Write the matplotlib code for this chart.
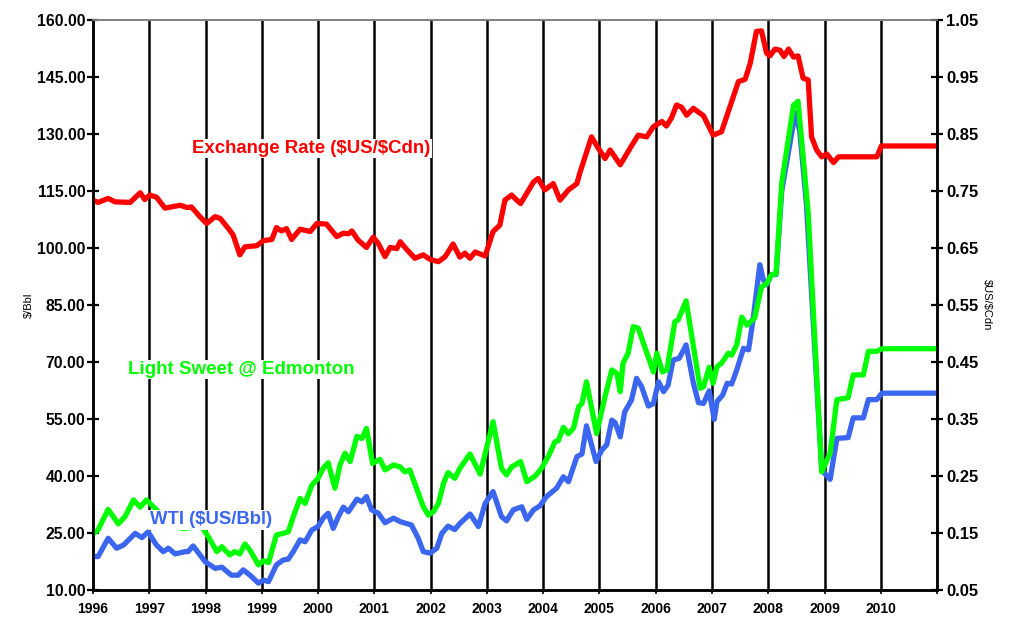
import numpy as np
import matplotlib
matplotlib.use('Agg')
from matplotlib import pyplot as plt

plt.rcParams['font.family'] = ['Liberation Sans', 'DejaVu Sans']
plt.rcParams['font.weight'] = 'bold'
plt.rcParams['text.parse_math'] = False

# exchange rate ($US/$Cdn), right axis
fxYears = [1996.00, 1996.09, 1996.27, 1996.39, 1996.66, 1996.84, 1996.92, 1997.01, 1997.13, 1997.28,
           1997.55, 1997.67, 1997.75, 1997.90, 1998.02, 1998.17, 1998.26, 1998.40, 1998.49, 1998.61,
           1998.70, 1998.91, 1999.03, 1999.18, 1999.26, 1999.35, 1999.44, 1999.53, 1999.68, 1999.86,
           1999.98, 2000.15, 2000.33, 2000.45, 2000.54, 2000.60, 2000.71, 2000.86, 2000.98, 2001.07,
           2001.19, 2001.28, 2001.40, 2001.46, 2001.57, 2001.72, 2001.87, 2001.99, 2002.14, 2002.26,
           2002.40, 2002.52, 2002.61, 2002.70, 2002.79, 2002.97, 2003.11, 2003.23, 2003.32, 2003.44,
           2003.53, 2003.60, 2003.83, 2003.91, 2004.03, 2004.18, 2004.30, 2004.45, 2004.60, 2004.65,
           2004.86, 2004.98, 2005.10, 2005.19, 2005.37, 2005.60, 2005.69, 2005.84, 2005.96, 2006.11,
           2006.19, 2006.28, 2006.37, 2006.46, 2006.55, 2006.67, 2006.85, 2007.02, 2007.17, 2007.32,
           2007.47, 2007.59, 2007.68, 2007.79, 2007.88, 2007.97, 2008.03, 2008.12, 2008.21, 2008.28,
           2008.36, 2008.45, 2008.53, 2008.62, 2008.71, 2008.77, 2008.86, 2008.95, 2009.04, 2009.16,
           2009.25, 2009.93, 2010.01, 2010.97]
fxRate = [0.734, 0.730, 0.737, 0.731, 0.730, 0.747, 0.735, 0.743, 0.739, 0.720,
          0.725, 0.721, 0.722, 0.705, 0.693, 0.705, 0.702, 0.685, 0.673, 0.638,
          0.652, 0.654, 0.663, 0.665, 0.686, 0.680, 0.684, 0.665, 0.683, 0.679,
          0.693, 0.692, 0.670, 0.676, 0.675, 0.680, 0.664, 0.651, 0.669, 0.658,
          0.635, 0.651, 0.649, 0.661, 0.648, 0.632, 0.638, 0.630, 0.626, 0.635,
          0.657, 0.634, 0.641, 0.632, 0.643, 0.636, 0.679, 0.690, 0.734, 0.743,
          0.734, 0.728, 0.766, 0.772, 0.752, 0.763, 0.734, 0.752, 0.763, 0.781,
          0.845, 0.825, 0.807, 0.822, 0.796, 0.834, 0.848, 0.845, 0.863, 0.872,
          0.864, 0.878, 0.901, 0.897, 0.883, 0.895, 0.882, 0.848, 0.854, 0.898,
          0.942, 0.946, 0.974, 1.030, 1.031, 0.992, 0.987, 0.999, 0.997, 0.986,
          0.999, 0.985, 0.987, 0.948, 0.945, 0.845, 0.822, 0.810, 0.815, 0.800,
          0.810, 0.810, 0.829, 0.829]

# Light Sweet @ Edmonton ($/Bbl), left axis
lsYears = [1996.01, 1996.09, 1996.27, 1996.45, 1996.57, 1996.72, 1996.84, 1996.95, 1997.43, 1997.60,
           1997.93, 1998.05, 1998.20, 1998.29, 1998.43, 1998.52, 1998.61, 1998.70, 1998.79, 1998.94,
           1999.03, 1999.12, 1999.26, 1999.38, 1999.47, 1999.56, 1999.68, 1999.77, 1999.89, 2000.00,
           2000.09, 2000.18, 2000.30, 2000.39, 2000.48, 2000.57, 2000.69, 2000.78, 2000.86, 2000.97,
           2001.10, 2001.19, 2001.34, 2001.46, 2001.54, 2001.63, 2001.75, 2001.87, 2001.96, 2002.05,
           2002.14, 2002.23, 2002.31, 2002.43, 2002.52, 2002.70, 2002.88, 2003.00, 2003.11, 2003.26,
           2003.35, 2003.44, 2003.50, 2003.60, 2003.71, 2003.86, 2003.97, 2004.09, 2004.21, 2004.27,
           2004.36, 2004.45, 2004.54, 2004.63, 2004.69, 2004.77, 2004.95, 2005.10, 2005.22, 2005.31,
           2005.37, 2005.42, 2005.51, 2005.60, 2005.69, 2005.96, 2006.02, 2006.12, 2006.20, 2006.34,
           2006.40, 2006.54, 2006.79, 2006.85, 2006.95, 2007.02, 2007.09, 2007.17, 2007.29, 2007.35,
           2007.44, 2007.53, 2007.62, 2007.76, 2007.88, 2007.97, 2008.06, 2008.14, 2008.24, 2008.45,
           2008.53, 2008.71, 2008.95, 2009.10, 2009.22, 2009.42, 2009.51, 2009.69, 2009.78, 2009.93,
           2010.02, 2010.97]
lsPrice = [24.9, 25.8, 31.2, 27.4, 29.3, 33.7, 31.8, 33.7, 26.7, 26.2,
           26.7, 24.0, 20.1, 21.4, 19.2, 20.1, 19.5, 22.1, 20.5, 16.6,
           17.7, 17.2, 24.5, 24.9, 25.3, 29.3, 34.1, 32.8, 37.6, 39.4,
           42.0, 43.5, 36.8, 42.9, 46.0, 43.8, 50.4, 49.9, 52.5, 43.3,
           44.4, 41.6, 42.9, 42.4, 41.1, 41.6, 36.8, 31.9, 29.7, 30.6,
           32.8, 38.1, 40.9, 39.4, 42.0, 45.8, 40.5, 47.7, 54.3, 42.0,
           40.3, 42.4, 42.9, 43.8, 38.5, 40.0, 42.0, 45.1, 49.0, 49.3,
           52.8, 51.1, 52.6, 58.2, 59.1, 64.8, 51.2, 60.9, 67.9, 67.0,
           62.2, 69.7, 72.3, 79.3, 78.9, 67.4, 72.3, 67.4, 67.9, 80.6,
           81.1, 86.1, 63.1, 63.5, 68.6, 64.4, 68.8, 69.7, 72.3, 71.8,
           74.5, 81.8, 79.7, 81.6, 89.8, 90.6, 93.0, 93.2, 117.1, 137.6,
           138.6, 109.3, 41.1, 46.0, 60.1, 60.6, 66.6, 66.6, 72.8, 72.8,
           73.5, 73.5]

# WTI ($US/Bbl), left axis
wtiYears = [1996.01, 1996.09, 1996.27, 1996.42, 1996.54, 1996.75, 1996.87, 1996.98, 1997.13, 1997.25,
            1997.34, 1997.46, 1997.64, 1997.69, 1997.78, 1997.99, 1998.17, 1998.29, 1998.46, 1998.58,
            1998.67, 1998.79, 1998.94, 1999.03, 1999.12, 1999.26, 1999.38, 1999.47, 1999.56, 1999.68,
            1999.77, 1999.89, 2000.00, 2000.09, 2000.18, 2000.27, 2000.36, 2000.45, 2000.54, 2000.69,
            2000.78, 2000.86, 2000.95, 2001.07, 2001.19, 2001.34, 2001.46, 2001.57, 2001.66, 2001.78,
            2001.87, 2001.99, 2002.11, 2002.20, 2002.31, 2002.43, 2002.52, 2002.70, 2002.85, 2002.97,
            2003.11, 2003.26, 2003.35, 2003.47, 2003.62, 2003.71, 2003.83, 2003.94, 2004.06, 2004.24,
            2004.36, 2004.45, 2004.60, 2004.69, 2004.77, 2004.94, 2005.04, 2005.13, 2005.22, 2005.28,
            2005.37, 2005.45, 2005.57, 2005.66, 2005.75, 2005.87, 2005.96, 2006.05, 2006.14, 2006.22,
            2006.31, 2006.42, 2006.54, 2006.67, 2006.76, 2006.85, 2006.95, 2007.04, 2007.09, 2007.19,
            2007.27, 2007.35, 2007.44, 2007.56, 2007.65, 2007.73, 2007.85, 2007.91, 2007.97, 2008.06,
            2008.14, 2008.24, 2008.48, 2008.56, 2008.68, 2008.95, 2009.10, 2009.22, 2009.42, 2009.51,
            2009.69, 2009.78, 2009.93, 2010.02, 2010.97]
wtiPrice = [18.8, 18.8, 23.6, 21.0, 21.8, 24.9, 23.8, 25.3, 21.8, 20.1,
            21.0, 19.5, 20.1, 20.1, 21.6, 17.5, 15.7, 16.0, 13.9, 13.9,
            15.3, 13.9, 11.8, 12.6, 12.2, 16.6, 17.9, 18.1, 20.1, 23.2,
            22.7, 25.8, 26.7, 28.9, 30.2, 26.2, 29.3, 31.8, 30.6, 33.9,
            33.2, 34.6, 31.1, 30.2, 27.7, 28.9, 28.0, 27.5, 27.1, 23.6,
            20.1, 19.7, 21.0, 24.9, 26.8, 25.9, 27.5, 30.0, 26.7, 32.8,
            35.9, 29.3, 28.2, 31.1, 31.9, 28.6, 31.1, 32.1, 34.6, 36.8,
            39.8, 38.5, 45.1, 45.8, 53.2, 43.8, 46.8, 48.2, 54.7, 54.0,
            50.3, 56.9, 60.0, 65.7, 63.5, 58.4, 59.1, 64.8, 62.2, 63.9,
            70.5, 71.0, 74.5, 64.4, 59.3, 59.1, 62.4, 54.9, 59.6, 61.3,
            64.4, 64.2, 67.9, 73.6, 73.2, 81.1, 95.6, 91.8, 90.3, 93.0,
            93.0, 115.0, 135.6, 130.8, 111.3, 41.6, 39.1, 49.9, 50.1, 55.3,
            55.3, 60.1, 60.1, 61.8, 61.8]

yearTicks = list(range(1996, 2012))
yearLabels = [str(y) for y in range(1996, 2011)] + ['']

fig = plt.figure(figsize=(10.15, 6.2), dpi=100)
ax = fig.add_axes([0.0916, 0.0484, 0.8316, 0.9193])
ax2 = ax.twinx()

for yr in yearTicks[1:-1]:
    ax.axvline(yr, color='black', lw=1.8, zorder=1)

ax.plot(wtiYears, wtiPrice, color='#3A66F0', lw=3.8, zorder=3, solid_joinstyle='round')
ax.plot(lsYears, lsPrice, color='#00FF00', lw=3.8, zorder=4, solid_joinstyle='round')
ax2.plot(fxYears, fxRate, color='#FF0000', lw=3.8, solid_joinstyle='round')

ax.set_xlim(1996, 2011)
ax.set_ylim(10, 160)
ax2.set_ylim(0.05, 1.05)
ax.set_yticks(np.arange(10, 161, 15))
ax.set_yticklabels(['%.2f' % v for v in np.arange(10, 161, 15)])
ax2.set_yticks(np.arange(0.05, 1.06, 0.1))
ax2.set_yticklabels(['%.2f' % v for v in np.arange(0.05, 1.06, 0.1)])
ax.set_xticks(yearTicks)
ax.set_xticklabels(yearLabels)

ax.tick_params(axis='y', direction='inout', length=9, width=1.6, labelsize=11.3, pad=1)
ax2.tick_params(axis='y', direction='inout', length=9, width=1.6, labelsize=12, pad=2)
ax.tick_params(axis='x', direction='out', length=3, width=1.2, labelsize=10, pad=6)

for a in (ax, ax2):
    a.spines['left'].set_linewidth(1.8)
    a.spines['right'].set_linewidth(1.8)
    a.spines['bottom'].set_linewidth(1.8)
    a.spines['top'].set_color('#808080')
    a.spines['top'].set_linewidth(1.2)

ax.set_ylabel('$/Bbl', fontsize=8, labelpad=2)
ax2.set_ylabel('$US/$Cdn', fontsize=8, rotation=270, labelpad=10)

labelBox = dict(facecolor='white', edgecolor='none', pad=1)
ax.text(1997.76, 126.2, 'Exchange Rate ($US/$Cdn)', color='#FF0000', fontsize=13.4,
        fontweight='bold', ha='left', va='center', zorder=6, bbox=labelBox)
ax.text(1996.62, 68.0, 'Light Sweet @ Edmonton', color='#00FF00', fontsize=13.5,
        fontweight='bold', ha='left', va='center', zorder=6, bbox=labelBox)
ax.text(1997.01, 28.5, 'WTI ($US/Bbl)', color='#3A66F0', fontsize=13.3, fontweight='bold',
        ha='left', va='center', zorder=6, bbox=labelBox)

fig.savefig('out.png', dpi=100)
